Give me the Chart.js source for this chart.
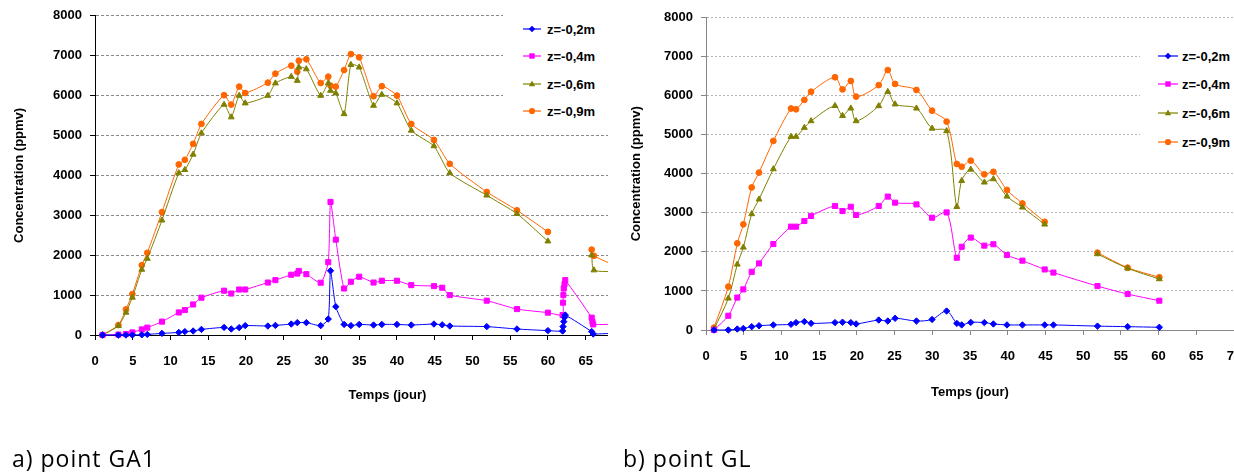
<!DOCTYPE html>
<html><head><meta charset="utf-8">
<script src="https://cdn.jsdelivr.net/npm/chart.js@4.4.1/dist/chart.umd.min.js"></script>
<style>
html,body{margin:0;padding:0;background:#fff;overflow:hidden;}
#wrap{position:relative;width:1234px;height:472px;overflow:hidden;background:#fff;}
#clipA{position:absolute;left:0;top:0;width:608px;height:472px;overflow:hidden;}
#clipB{position:absolute;left:620px;top:0;width:614px;height:472px;overflow:hidden;}
canvas{position:absolute;left:0;top:0;}
.legend{position:absolute;background:#fff;font:bold 13px "Liberation Sans",Arial,sans-serif;color:#000;}
.row{position:absolute;height:20px;display:flex;align-items:center;white-space:nowrap;}
.row svg{display:block;flex:none;}
.cap{position:absolute;font:23px "Open Sans",sans-serif;color:#000;line-height:23px;letter-spacing:1px;white-space:nowrap;}
</style>
</head><body>
<div id="wrap">
  <div id="clipA"><canvas id="cA" width="690" height="472"></canvas></div>
  <div id="clipB"><canvas id="cB" width="640" height="472"></canvas></div>
  <div class="legend" id="legA" style="left:503px;top:5px;width:110px;height:122px;"></div>
  <div class="legend" id="legB" style="left:1140px;top:35px;width:94px;height:125px;"></div>
  <div class="cap" style="left:12px;top:447px;">a) point GA1</div>
  <div class="cap" style="left:623px;top:447px;">b) point GL</div>
</div>
<script>
// ---- series metadata ----
const seriesLabels = ['z=-0,2m', 'z=-0,4m', 'z=-0,6m', 'z=-0,9m'];
const seriesColors = ['#0000FF', '#FF00FF', '#808000', '#FF6600'];
const seriesMarkers = ['rectRot', 'rect', 'triangle', 'circle'];

// ---- a) point GA1 ----
const ga1Days02 = [1.0,3.1,4.1,4.95,6.2,6.93,8.87,11.1,11.9,13.0,14.1,17.1,18.05,19.1,19.9,22.9,23.9,26.0,26.8,28.0,29.9,30.9,31.2,31.9,33.0,33.9,35.0,36.9,38.0,40.0,41.9,44.9,46.0,47.0,51.9,55.9,60.0,61.95,62.0,62.1,62.2,62.3,65.8,66.0,69.5];
const ga1Conc02 = [0,0,0,0,5,15,40,65,85,100,140,190,150,185,235,225,240,275,310,310,235,400,1610,710,265,235,265,250,265,265,250,275,255,225,210,150,110,100,210,335,440,500,85,25,55];

const ga1Days04 = [1.0,3.1,4.1,4.95,6.2,6.93,8.87,11.1,11.9,13.0,14.1,17.1,18.05,19.1,19.9,22.9,23.9,26.0,26.8,27.0,28.0,29.9,30.9,31.2,31.9,33.0,33.9,35.0,36.9,38.0,40.0,41.9,44.9,46.0,47.0,51.9,55.9,60.0,61.95,62.0,62.05,62.1,62.2,62.3,65.8,65.9,66.0,69.5];
const ga1Conc04 = [0,10,25,65,140,185,335,565,625,765,935,1110,1040,1140,1140,1315,1375,1510,1540,1605,1525,1310,1825,3335,2390,1165,1335,1460,1315,1360,1360,1250,1225,1185,1000,860,650,560,500,810,1000,1165,1275,1375,435,335,265,275];

const ga1Days0609 = [1.0,3.1,4.1,4.95,6.2,6.93,8.87,11.1,11.9,13.0,14.1,17.1,18.05,19.1,19.9,22.9,23.9,26.0,26.8,27.0,28.0,29.9,30.9,31.2,31.9,33.0,33.9,35.0,36.9,38.0,40.0,41.9,44.9,47.0,51.9,55.9,60.0,62.0,65.8,66.1,69.5];
const ga1Conc06 = [0,230,565,940,1640,1915,2875,4060,4140,4525,5060,5775,5460,6000,5810,6000,6310,6475,6375,6710,6665,6000,6310,6125,6060,5540,6775,6710,5750,6025,5810,5125,4735,4060,3500,3040,2350,null,2000,1625,1590];
const ga1Conc09 = [0,250,640,1025,1750,2060,3080,4275,4390,4790,5290,6010,5775,6225,6065,6325,6550,6750,6600,6875,6910,6315,6475,6250,6225,6640,7040,6960,5985,6235,6000,5290,4890,4290,3585,3125,2585,null,2140,1985,1690];

// ---- b) point GL ----
const glDays0204 = [1.06,2.96,4.15,4.95,6.06,7.03,8.93,11.27,11.94,13.04,13.93,17.1,18.1,19.2,19.9,22.9,24.1,25.07,27.9,29.97,31.9,33.25,33.9,35.1,36.9,38.1,39.9,41.95,44.9,46.06,51.9,55.9,60.1];
const glConc02 = [0,0,25,40,85,110,130,145,190,215,170,190,200,190,155,255,230,300,230,270,485,170,130,195,190,155,130,130,130,130,100,85,70];
const glConc04 = [0,365,830,1040,1490,1705,2200,2645,2645,2790,2920,3175,3045,3155,2945,3175,3415,3260,3215,2875,3010,1850,2130,2365,2160,2195,1920,1775,1550,1470,1125,920,750];

const glDays0609 = [1.06,2.96,4.15,4.95,6.06,7.03,8.93,11.27,11.94,13.04,13.93,17.1,18.1,19.2,19.9,22.9,24.1,25.07,27.9,29.97,31.9,33.25,33.9,35.1,36.9,38.1,39.9,41.95,44.9,48.0,51.9,55.9,60.1];
const glConc06 = [25,810,1680,2115,2970,3345,4120,4950,4950,5180,5350,5740,5485,5675,5350,5735,6100,5780,5675,5160,5095,3155,3820,4110,3780,3865,3420,3140,2705,null,1945,1580,1305];
const glConc09 = [60,1110,2220,2705,3650,4030,4840,5670,5650,5890,6100,6470,6160,6375,5975,6270,6655,6300,6145,5615,5335,4250,4180,4335,3985,4050,3585,3240,2770,null,1980,1595,1350];

// ---- axis ----
const yTicksMax = 8000, yStep = 1000, xStep = 5;
const xTitle = 'Temps (jour)';
const yTitle = 'Concentration (ppmv)';

const pointRadii = {rectRot: 3.2, rect: 3.6, triangle: 3.4, circle: 2.9};

function pts(days, vals) { return days.map((d, i) => ({x: d, y: vals[i]})); }

function makeDatasets(list, tension) {
  return list.map((s, i) => ({
    label: seriesLabels[i],
    data: pts(s[0], s[1]),
    borderColor: seriesColors[i],
    backgroundColor: seriesColors[i],
    pointBackgroundColor: seriesColors[i],
    pointBorderColor: seriesColors[i],
    pointStyle: seriesMarkers[i],
    pointRadius: pointRadii[seriesMarkers[i]],
    pointBorderWidth: 1,
    borderWidth: 1,
    tension: tension,
    spanGaps: false,
    clip: false
  }));
}

const fontTick = {family: '"Liberation Sans", Arial, sans-serif', size: 13, weight: 'bold'};

function makeChart(id, datasets, o) {
  return new Chart(document.getElementById(id), {
    type: 'line',
    data: {datasets},
    options: {
      responsive: false, animation: false, devicePixelRatio: 1,
      layout: {padding: o.padding},
      plugins: {legend: {display: false}, tooltip: {enabled: false}},
      scales: {
        x: {
          type: 'linear', min: 0, max: o.xMax,
          ticks: {stepSize: xStep, includeBounds: false, padding: 14, font: fontTick, color: '#000', maxRotation: 0, autoSkip: false,
                  callback: (v) => String(v)},
          grid: {display: true, drawOnChartArea: false, drawTicks: true, tickLength: 5, tickColor: o.axisColor, tickWidth: 1},
          border: {display: true, color: o.axisColor, width: 1},
          title: {display: true, text: xTitle, font: fontTick, color: '#000', padding: {top: 0, bottom: 0}},
          afterFit: (s) => { s.height = o.xH; }
        },
        y: {
          min: 0, max: yTicksMax,
          ticks: {stepSize: yStep, padding: 8, font: fontTick, color: '#000', callback: (v) => String(v)},
          grid: {
            color: (c) => (c.tick && c.tick.value === 0) ? 'rgba(0,0,0,0)' : o.gridColor,
            lineWidth: 1, drawTicks: true, tickLength: 5, tickColor: o.axisColor, tickWidth: 1, tickBorderDash: []
          },
          border: {display: true, color: o.axisColor, width: 1, dash: o.gridDash},
          title: {display: true, text: yTitle, font: fontTick, color: '#000', padding: {top: o.yTitlePad, bottom: 0}},
          afterFit: (s) => { s.width = o.yW; }
        }
      }
    }
  });
}

makeChart('cA', makeDatasets([
  [ga1Days02, ga1Conc02], [ga1Days04, ga1Conc04], [ga1Days0609, ga1Conc06], [ga1Days0609, ga1Conc09]
], 0.2), {
  padding: {left: 0, top: 15, right: 10, bottom: 69}, xMax: 77.5, xH: 68, yW: 95,
  axisColor: '#000', gridColor: '#8a8a8a', gridDash: [3, 2], yTitlePad: 12
});

makeChart('cB', makeDatasets([
  [glDays0204, glConc02], [glDays0204, glConc04], [glDays0609, glConc06], [glDays0609, glConc09]
], 0.3), {
  padding: {left: 0, top: 17.5, right: 26, bottom: 72}, xMax: 70, xH: 70, yW: 86,
  axisColor: '#868686', gridColor: '#b4b4b4', gridDash: [2, 2], yTitlePad: 9
});

// ---- HTML legends ----
function markerSvg(style, color, cx, cy) {
  if (style === 'rectRot') return `<polygon points="${cx},${cy-3.3} ${cx+3.3},${cy} ${cx},${cy+3.3} ${cx-3.3},${cy}" fill="${color}"/>`;
  if (style === 'rect') return `<rect x="${cx-2.7}" y="${cy-2.7}" width="5.4" height="5.4" fill="${color}"/>`;
  if (style === 'triangle') return `<polygon points="${cx},${cy-3.6} ${cx+3.2},${cy+2.2} ${cx-3.2},${cy+2.2}" fill="${color}"/>`;
  return `<circle cx="${cx}" cy="${cy}" r="3.1" fill="${color}"/>`;
}
function buildLegend(id, rowTops, rowLeft, lineLen, gap) {
  const el = document.getElementById(id);
  seriesLabels.forEach((lab, i) => {
    const row = document.createElement('div');
    row.className = 'row';
    row.style.left = rowLeft + 'px';
    row.style.top = rowTops[i] + 'px';
    row.innerHTML = `<svg width="${lineLen + gap}" height="20"><line x1="0" y1="10" x2="${lineLen}" y2="10" stroke="${seriesColors[i]}" stroke-width="1.2"/>${markerSvg(seriesMarkers[i], seriesColors[i], lineLen / 2, 10)}</svg><span>${lab}</span>`;
    el.appendChild(row);
  });
}
buildLegend('legA', [14, 41, 69, 96], 20, 18, 6);
buildLegend('legB', [11, 39, 68, 97], 18, 20, 4);
</script>
</body></html>
